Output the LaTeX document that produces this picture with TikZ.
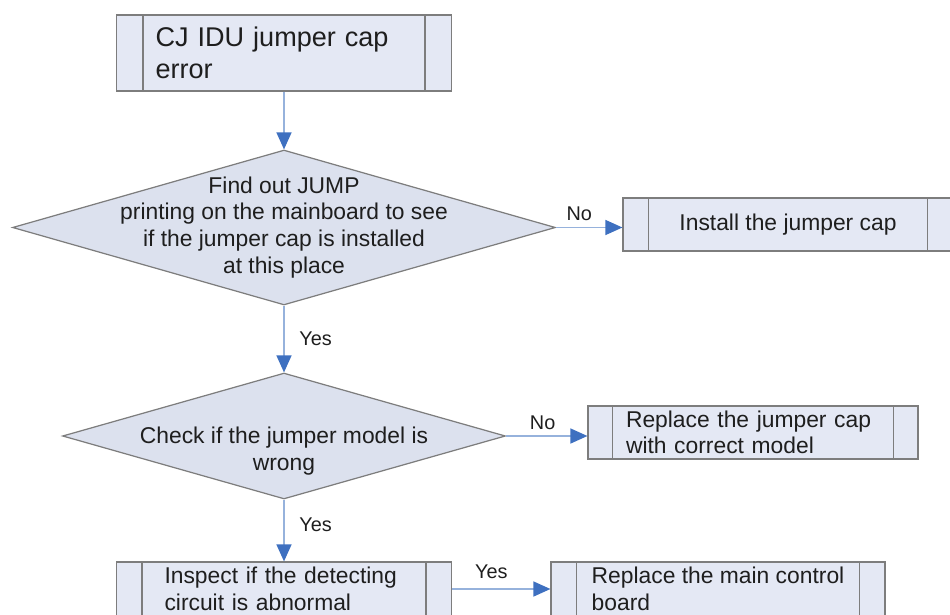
\documentclass[tikz,border=0pt]{standalone}
\usepackage{fontspec}
\setmainfont{Liberation Sans}
\usepackage{tikz}
\usetikzlibrary{shapes.geometric,arrows.meta}
\definecolor{boxfill}{RGB}{228,232,244}
\definecolor{diafill}{RGB}{220,225,238}
\definecolor{edgegray}{RGB}{125,125,125}
\definecolor{linkblue}{RGB}{150,178,220}
\definecolor{tipblue}{RGB}{62,112,192}
\definecolor{inkgray}{RGB}{30,30,30}
\newcommand{\sidebars}[2]{\draw[edgegray,line width=0.7pt] ([xshift=#2]#1.north west) -- ([xshift=#2]#1.south west) ([xshift=-#2]#1.north east) -- ([xshift=-#2]#1.south east);}

\begin{document}
\begin{tikzpicture}[x=0.02cm,y=-0.02cm,
  proc/.style={draw=edgegray,line width=0.7pt,fill=boxfill,rectangle,inner sep=0pt,text=inkgray,font=\fontsize{13}{15}\selectfont},
  decision/.style={draw=edgegray,line width=0.7pt,fill=diafill,diamond,inner sep=0pt},
  qtext/.style={align=center,inner sep=0pt,text=inkgray,font=\fontsize{13}{15.3}\selectfont},
  link/.style={linkblue,line width=0.8pt,-{Triangle[length=0.34cm,width=0.3cm,color=tipblue,fill=tipblue]}},
  ans/.style={text=inkgray,font=\fontsize{11.3}{13}\selectfont}]
\useasboundingbox (0,0) rectangle (950,615);
\clip (0,0) rectangle (950,615);

\node[proc,minimum width=6.7cm,minimum height=1.52cm,text width=5.14cm,align=left,font=\fontsize{15.4}{18.5}\selectfont] (start) at (284,53) {CJ IDU jumper cap\\error};
\node[decision,minimum width=10.86cm,minimum height=3.1cm,label={[qtext]center:{Find out JUMP\\printing on the mainboard to see\\if the jumper cap is installed\\at this place}}] (q1) at (284,227.5) {};
\node[proc,minimum width=6.6cm,minimum height=1.06cm] (install) at (788,224.5) {Install the jumper cap};
\node[decision,minimum width=8.86cm,minimum height=2.52cm,label={[qtext,yshift=-0.3cm]center:{Check if the jumper model is\\wrong}}] (q2) at (284,436) {};
\node[proc,minimum width=6.6cm,minimum height=1.06cm,text width=5.08cm,align=left] (capfix) at (753,432.5) {Replace the jumper cap\\with correct model};
\node[proc,minimum width=6.7cm,minimum height=1.08cm,text width=4.78cm,align=left] (inspect) at (284,589) {Inspect if the detecting\\circuit is abnormal};
\node[proc,minimum width=6.68cm,minimum height=1.08cm,align=left] (mainbd) at (718,589) {Replace the main control\\board};

\sidebars{start}{0.54cm}
\sidebars{install}{0.52cm}
\sidebars{capfix}{0.5cm}
\sidebars{inspect}{0.52cm}
\sidebars{mainbd}{0.52cm}

\draw[link] (start.south) -- (q1.north);
\draw[link] (q1.east) -- (q1.east -| install.west) node[ans,pos=0.35,above] {No};
\draw[link] (q1.south) -- (q2.north) node[ans,midway,right=5pt] {Yes};
\draw[link] (q2.east) -- (q2.east -| capfix.west) node[ans,pos=0.45,above] {No};
\draw[link] (q2.south) -- (inspect.north) node[ans,pos=0.4,right=5pt] {Yes};
\draw[link] (inspect.east) -- (mainbd.west) node[ans,pos=0.4,above=2pt] {Yes};
\end{tikzpicture}
\end{document}
